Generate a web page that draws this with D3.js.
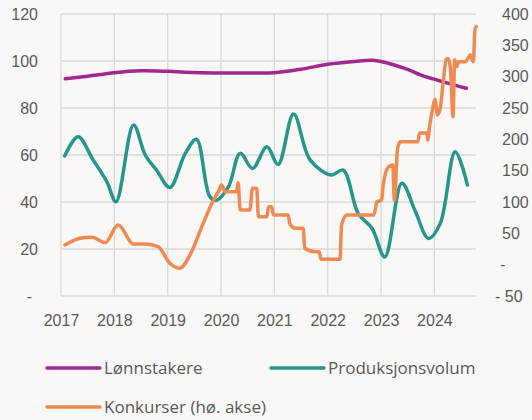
<!DOCTYPE html>
<html lang="no">
<head>
<meta charset="UTF-8">
<title>Lønnstakere, produksjonsvolum og konkurser</title>
<script src="https://d3js.org/d3.v7.min.js"></script>
<style>
    body { margin: 0; background: #f9f8f6; }
    svg { display: block; font-family: "Open Sans", sans-serif; }
    .tick text { fill: #595959; font-size: 16px; }
    .grid line { stroke: #d9d9d9; stroke-width: 1.3; }
    .legend text { fill: #595959; font-size: 17px; }
</style>
</head>
<body>
<div id="chart"></div>
<script>
// x values are decimal years
const years = [2017, 2018, 2019, 2020, 2021, 2022, 2023, 2024];
const leftTicks = [0, 20, 40, 60, 80, 100, 120];
const rightTicks = [-50, 0, 50, 100, 150, 200, 250, 300, 350, 400];

const lonnT = [2017.08, 2017.5, 2018.0, 2018.5, 2019.0, 2019.5, 2020.0, 2020.5, 2021.0, 2021.5,
    2022.0, 2022.5, 2022.85, 2023.25, 2023.5, 2023.75, 2024.25, 2024.6];
const lonnV = [92.4, 93.5, 95.0, 95.8, 95.6, 95.1, 94.9, 94.9, 95.0, 96.5,
    98.6, 99.8, 100.3, 98.3, 96.4, 94.0, 90.6, 88.4];

const prodT = [2017.07, 2017.32, 2017.6, 2017.86, 2018.03, 2018.36, 2018.58, 2018.79, 2019.04, 2019.33,
    2019.54, 2019.79, 2019.92, 2020.14, 2020.36, 2020.59, 2020.86, 2021.07, 2021.36, 2021.67,
    2022.07, 2022.29, 2022.57, 2022.83, 2023.07, 2023.39, 2023.64, 2023.89, 2024.11, 2024.39, 2024.62];
const prodV = [59.6, 67.8, 58, 48.6, 40.1, 72.8, 60, 53.6, 46.2, 60.7,
    66.7, 42.3, 40.8, 46.5, 60.7, 54.3, 63.5, 56, 77.4, 57.9,
    51.5, 53.6, 35.2, 28.8, 16.6, 48, 36.2, 24.5, 30.9, 61.4, 47.2];

const konkT = [2017.075, 2017.36, 2017.58, 2017.83, 2018.07, 2018.36, 2018.58, 2018.82, 2019.04, 2019.22,
    2019.45, 2019.64, 2019.83, 2019.89, 2019.95, 2020.01, 2020.075, 2020.29, 2020.32, 2020.36,
    2020.54, 2020.59, 2020.67, 2020.70, 2020.86, 2020.89, 2020.95, 2020.98, 2021.26, 2021.29,
    2021.39, 2021.54, 2021.57, 2021.76, 2021.84, 2021.875, 2022.23, 2022.26, 2022.36, 2022.86,
    2022.89, 2022.92, 2023.01, 2023.04, 2023.14, 2023.22, 2023.25, 2023.31, 2023.36, 2023.69,
    2023.72, 2023.86, 2023.875, 2023.905, 2023.97, 2024.01, 2024.06, 2024.11, 2024.16, 2024.22,
    2024.26, 2024.30, 2024.35, 2024.38, 2024.42, 2024.45, 2024.575, 2024.63, 2024.67, 2024.73,
    2024.76, 2024.785];
const konkV = [31.4, 42.1, 43.7, 35.1, 63.3, 33, 33, 28.7, 2.2, -5.7,
    20.7, 60.6, 98, 108, 116.5, 127, 116.5, 116.5, 131, 87.3,
    87.3, 122, 122, 76.6, 76.6, 92.5, 92.5, 79.3, 79.3, 65,
    58, 58, 26.2, 20.7, 20.7, 8.6, 8.6, 63.3, 79.3, 79.3,
    87.3, 100, 103, 127, 156, 159, 103, 185, 196, 196,
    210, 210, 199, 218, 250, 264, 239, 250, 287, 327,
    329, 314, 236, 327, 316, 324, 324, 329, 335, 324,
    374.5, 380];

const W = 532, H = 420;
const margin = { top: 14, right: 56, bottom: 124, left: 61 };
const iw = W - margin.left - margin.right;
const ih = H - margin.top - margin.bottom;

const x = d3.scaleLinear().domain([2017, 2024.78]).range([0, iw]);
const yL = d3.scaleLinear().domain([0, 120]).range([ih, 0]);
const yR = d3.scaleLinear().domain([-50, 400]).range([ih, 0]);

const svg = d3.select("#chart").append("svg")
    .attr("width", W)
    .attr("height", H);
svg.append("rect").attr("width", W).attr("height", H).attr("fill", "#f9f8f6");

const g = svg.append("g")
    .attr("transform", "translate(" + margin.left + "," + margin.top + ")");

// grid
const grid = g.append("g").attr("class", "grid");
grid.selectAll(".h").data(leftTicks).enter().append("line")
    .attr("x1", 0).attr("x2", iw)
    .attr("y1", d => yL(d)).attr("y2", d => yL(d));
grid.selectAll(".v").data(years).enter().append("line")
    .attr("x1", d => x(d)).attr("x2", d => x(d))
    .attr("y1", 0).attr("y2", ih);

// axes
const xAxis = g.append("g")
    .attr("transform", "translate(0," + ih + ")")
    .call(d3.axisBottom(x).tickValues(years).tickFormat(d3.format("d")).tickSize(0).tickPadding(19));

const leftAxis = g.append("g")
    .call(d3.axisLeft(yL).tickValues(leftTicks).tickFormat(d => d === 0 ? "-" : d).tickSize(0).tickPadding(23));
leftAxis.selectAll(".tick").filter(d => d === 0).select("text").attr("dx", -6);

const rightAxis = g.append("g")
    .attr("transform", "translate(" + iw + ",0)")
    .call(d3.axisRight(yR).tickValues(rightTicks)
        .tickFormat(d => d === 0 ? "-" : d < 0 ? "- " + Math.abs(d) : d)
        .tickSize(0).tickPadding(26));
rightAxis.selectAll(".tick").filter(d => d === 0).select("text").attr("dx", -2);
rightAxis.selectAll(".tick").filter(d => d < 0).select("text").attr("dx", -7);

[xAxis, leftAxis, rightAxis].forEach(a => a.select(".domain").remove());

// lines
const series = [
    { name: "Lønnstakere", t: lonnT, v: lonnV, y: yL, color: "#a0288f", curve: d3.curveCatmullRom },
    { name: "Produksjonsvolum", t: prodT, v: prodV, y: yL, color: "#24978a", curve: d3.curveCatmullRom },
    { name: "Konkurser (hø. akse)", t: konkT, v: konkV, y: yR, color: "#ef8a52", curve: d3.curveMonotoneX }
];

series.forEach(s => {
    const pts = s.t.map((t, i) => [t, s.v[i]]);
    const line = d3.line()
        .x(d => x(d[0]))
        .y(d => s.y(d[1]))
        .curve(s.curve);
    g.append("path")
        .datum(pts)
        .attr("fill", "none")
        .attr("stroke", s.color)
        .attr("stroke-width", 3.5)
        .attr("stroke-linejoin", "round")
        .attr("stroke-linecap", "round")
        .attr("d", line);
});

// legend
const legendPos = [[47, 368], [271, 368], [47, 407]];
const legend = svg.append("g").attr("class", "legend");
series.forEach((s, i) => {
    const [lx, ly] = legendPos[i];
    legend.append("line")
        .attr("x1", lx).attr("x2", lx + 53)
        .attr("y1", ly).attr("y2", ly)
        .attr("stroke", s.color)
        .attr("stroke-width", 3.5)
        .attr("stroke-linecap", "round");
    legend.append("text")
        .attr("x", lx + 57)
        .attr("y", ly)
        .attr("dy", "0.35em")
        .text(s.name);
});
</script>
</body>
</html>
